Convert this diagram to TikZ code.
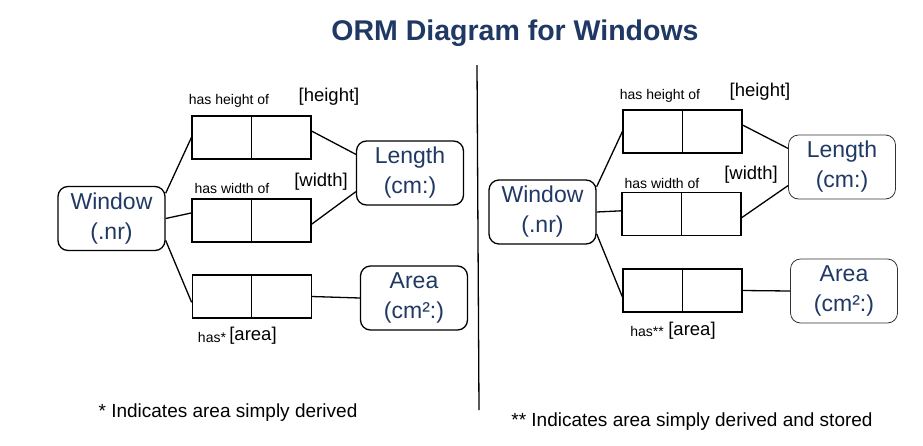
\documentclass[tikz,border=0pt]{standalone}
\usepackage{fontspec}
\setmainfont{Liberation Sans}
\usepackage{tikz}
\definecolor{ormblue}{RGB}{31,56,100}

\begin{document}
\begin{tikzpicture}[x=1pt,y=-1pt,
objtype/.style={draw,rounded corners=10pt,line width=1.3pt,minimum width=107pt,minimum height=64pt,inner sep=0pt,align=center,text=ormblue,font=\fontsize{23}{30}\selectfont},
thinobj/.style={objtype,line width=0.8pt,draw=black!80},
role/.style={draw,line width=1.2pt,minimum width=59.5pt,minimum height=43pt,inner sep=0pt},
small/.style={inner sep=0pt,font=\fontsize{14}{16}\selectfont},
reading/.style={inner sep=0pt,font=\fontsize{18.5}{20}\selectfont},
note/.style={inner sep=0pt,font=\fontsize{19}{22}\selectfont},
link/.style={line width=1.3pt}]
\useasboundingbox (0,0) rectangle (923,445);
\node [text=ormblue,font=\fontsize{28.5}{32}\selectfont\bfseries] (title) at (515,33) {ORM Diagram for Windows};
\coordinate (divtop) at (477,65);
\coordinate (divbot) at (479,410);
\draw [line width=1.3pt] (divtop) -- (divbot);

% left: area simply derived
\node [objtype] (winA) at (111.5,218.5) {Window\\(.nr)};
\node [objtype] (lenA) at (410,173) {Length\\(cm:)};
\node [objtype] (areaA) at (414,298) {Area\\(cm²:)};
\node [role] (hA1) at (221.75,137.5) {}; \node [role] (hA2) at (281.25,137.5) {};
\node [role] (wA1) at (221.75,220.5) {}; \node [role] (wA2) at (281.25,220.5) {};
\node [role] (aA1) at (222,296.5) {}; \node [role] (aA2) at (281.5,296.5) {};
\node [small] (hlblA) at (229,101) {has height of};
\node [reading] (hrdA) at (329,97) {[height]};
\node [small] (wlblA) at (232,188) {has width of};
\node [reading] (wrdA) at (321,182) {[width]};
\node [small] (albA) at (212,337) {has*};
\node [reading] (ardA) at (253,336) {[area]};
\draw [link] (winA.25) -- (hA1.west);
\draw [link] (winA.east) -- (wA1.166);
\draw [link] (winA.-22) -- (aA1.191);
\draw [link] (hA2.12) -- (lenA.161);
\draw [link] (wA2.-7) -- (lenA.199);
\draw [link] (aA2.east) -- (areaA.west);
\node [note] (noteA) at (228,413) {* Indicates area simply derived};

% right: area simply derived and stored
\node [objtype] (winB) at (542.5,212) {Window\\(.nr)};
\node [thinobj] (lenB) at (842,167) {Length\\(cm:)};
\node [thinobj] (areaB) at (844,291) {Area\\(cm²:)};
\node [role] (hB1) at (652.75,131.5) {}; \node [role] (hB2) at (712.25,131.5) {};
\node [role] (wB1) at (651.75,214) {}; \node [role] (wB2) at (711.25,214) {};
\node [role] (aB1) at (652.75,290.5) {}; \node [role] (aB2) at (712.25,290.5) {};
\node [small] (hlblB) at (660,96) {has height of};
\node [reading] (hrdB) at (760,92) {[height]};
\node [small] (wlblB) at (662,183) {has width of};
\node [reading] (wrdB) at (751,175) {[width]};
\node [small] (albB) at (647,331) {has**};
\node [reading] (ardB) at (692,331) {[area]};
\draw [link] (winB.25) -- (hB1.west);
\draw [link] (winB.east) -- (wB1.174);
\draw [link] (winB.-22) -- (aB1.192);
\draw [link] (hB2.12) -- (lenB.161);
\draw [link] (wB2.-7) -- (lenB.199);
\draw [link] (aB2.east) -- (areaB.west);
\node [note] (noteB) at (692,422) {** Indicates area simply derived and stored};
\end{tikzpicture}
\end{document}
